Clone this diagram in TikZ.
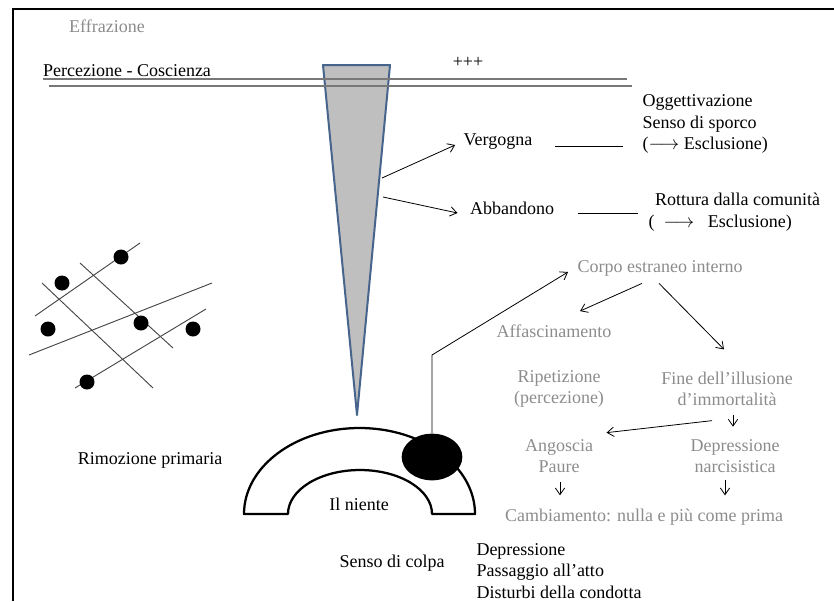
\documentclass[tikz,border=0pt]{standalone}
\usepackage{fontspec}
\setmainfont{Liberation Serif}
\usetikzlibrary{arrows.meta,calc,shapes.geometric}
\definecolor{grigiotesto}{RGB}{140,140,140}
\definecolor{grigiolinea}{RGB}{120,120,120}
\definecolor{bordocuneo}{RGB}{70,100,140}
\definecolor{fillcuneo}{RGB}{191,191,191}
\tikzset{every picture/.style={line width=0.75pt}}
\tikzset{
  testo/.style={inner sep=0pt, font=\fontsize{13.5}{16.2}\selectfont},
  grigio/.style={testo, text=grigiotesto},
  freccia/.style={-{Straight Barb[length=5pt,width=7pt]}, line width=0.6pt},
  rete/.style={line width=0.7pt, draw={rgb,255:red,70;green,70;blue,70}},
  cornice/.style={line width=1.6pt},
}

\begin{document}
\begin{tikzpicture}[x=0.75pt,y=0.75pt,yscale=-1,xscale=1]
\useasboundingbox (0,0) rectangle (834,601);

%Straight Lines: frame
\draw [cornice] (13,601) -- (13,9) -- (834,9) ;

%Shape: Wedge
\draw [fill=fillcuneo, draw=bordocuneo, line width=1.5pt, line join=round] (323,65) -- (390,65) -- (357,415) -- cycle ;
%Straight Lines: double line
\draw [draw=grigiolinea, line width=1.1pt] (43,79) -- (627,79) ;
\draw [draw=grigiolinea, line width=1.1pt] (49,86) -- (632,86) ;

% Text Node
\node [grigio] (effrazione) at (107,26) {Effrazione};
% Text Node
\node [testo] (percezione) at (127,71) {Percezione - Coscienza};
% Text Node
\node [testo] (piu) at (468,62) {+++};

% Text Node
\node [testo] (vergogna) at (498,142) {Vergogna};
% Text Node
\node [testo] (abbandono) at (512,208) {Abbandono};
% Text Node
\node [testo, align=left, anchor=west] (oggett) at (642,124) {Oggettivazione\\ Senso di sporco\\(\ensuremath{\longrightarrow} Esclusione)};
% Text Node
\node [testo, align=left, anchor=west] (rottura) at (648,212) {\hspace{5pt}Rottura dalla comunità\\(\enspace\ensuremath{\longrightarrow}\enspace\ Esclusione)};

%Straight Lines: from wedge
\coordinate (cuneo1) at (382,178);
\coordinate (cuneo2) at (383,197);
\draw [freccia] (cuneo1) -- ($(vergogna.west)+(-8,3)$) ;
\draw [freccia] (cuneo2) -- ($(abbandono.west)+(-12,5)$) ;
\draw ($(vergogna.east)+(22,4)$) -- ($(oggett.west |- vergogna.east)+(-19,4)$) ;
\draw ($(abbandono.east)+(23,5)$) -- ($(rottura.west |- abbandono.east)+(-10,5)$) ;

%Straight Lines: network
\draw [rete] (35,316) -- (140,243) ;
\draw [rete] (80,263) -- (173,348) ;
\draw [rete] (42,283) -- (153,388) ;
\draw [rete] (29,355) -- (212,283) ;
\draw [rete] (75,388) -- (206,309) ;
\foreach \px/\py in {121/257, 62/283, 48/329, 141/323, 193/329, 87/382}
  \fill (\px,\py) circle [radius=7.5] ;

% Text Node
\node [testo] (rimozione) at (150,460) {Rimozione primaria};

%Shape: Arch
\draw [fill=white, line width=1.7pt, line join=round] (244,514) arc [start angle=180, end angle=360, x radius=115.5, y radius=86] -- (432,514) arc [start angle=360, end angle=180, x radius=72, y radius=44] -- cycle ;
%Shape: Ellipse
\node [ellipse, fill=black, minimum width=45.5pt, minimum height=35pt, inner sep=0pt] (nucleo) at (432,457) {};
% Text Node
\node [testo] (niente) at (359,504) {Il niente};

% Text Node
\node [grigio] (corpo) at (660,268) {Corpo estraneo interno};
% Text Node
\node [grigio] (affasc) at (554,331) {Affascinamento};
% Text Node
\node [grigio, align=center] (ripetizione) at (559,389) {Ripetizione\\(percezione)};
% Text Node
\node [grigio, align=center] (fine) at (727,389) {Fine dell'illusione\\d'immortalità};
% Text Node
\node [grigio, align=center] (angoscia) at (559,456) {Angoscia\\Paure};
% Text Node
\node [grigio, align=center] (depress) at (735,456) {Depressione\\narcisistica};
% Text Node
\node [grigio] (cambia) at (644,517) {Cambiamento: nulla e più come prima};

%Straight Lines: arrows
\coordinate (gomito) at (432,355);
\draw [freccia] (nucleo.north) -- (gomito) -- ($(corpo.west)+(-9,4)$) ;
\draw [freccia] ($(corpo.south)+(-18,7)$) -- ($(affasc.north)+(26,-13)$) ;
\draw [freccia] ($(corpo.south)+(-1,7)$) -- ($(fine.north)+(-3,-22)$) ;
\draw [freccia] ($(fine.south)+(6,8)$) -- ($(depress.north)+(-2,-12)$) ;
\draw [freccia] ($(fine.south)+(-15,14)$) -- ($(angoscia.north east)+(13,-6)$) ;
\draw [freccia] ($(angoscia.south)+(1,9)$) -- ($(cambia.north -| angoscia.south)+(1,-13)$) ;
\draw [freccia] ($(depress.south)+(-10,7)$) -- ($(cambia.north -| depress.south)+(-10,-13)$) ;

% Text Node
\node [testo] (colpa) at (392,563) {Senso di colpa};
% Text Node
\node [testo, align=left, anchor=west] (conseguenze) at (476,571) {Depressione\\Passaggio all'atto\\Disturbi della condotta};

\end{tikzpicture}
\end{document}
